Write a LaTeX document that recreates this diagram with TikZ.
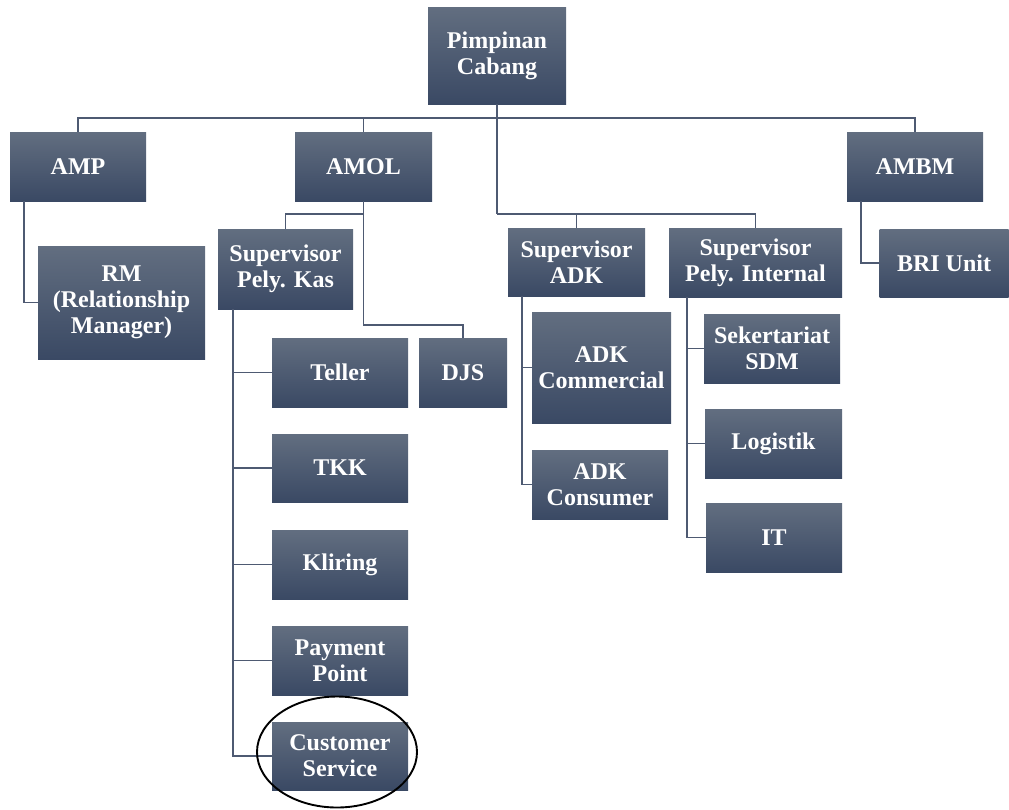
\documentclass[tikz,border=0pt]{standalone}
\usepackage{fontspec}
\setmainfont{Liberation Serif}
\definecolor{boxtop}{RGB}{98,110,128}
\definecolor{boxbot}{RGB}{58,73,100}
\definecolor{linec}{RGB}{78,90,114}
\begin{document}
\begin{tikzpicture}[x=1pt,y=-1pt,
  box/.style={rectangle, top color=boxtop, bottom color=boxbot, draw=none,
    text=white, font=\fontsize{24}{26}\selectfont\bfseries, align=center, inner sep=0pt},
  conn/.style={draw=linec, line width=1.6pt}]
\useasboundingbox (0,0) rectangle (1009,809);
% boxes
\node[box, minimum width=138, minimum height=97] (pc) at (497,55.5) {Pimpinan\\Cabang};
\node[box, minimum width=136, minimum height=69] (amp) at (78,166.5) {AMP};
\node[box, minimum width=137, minimum height=69] (amol) at (363.5,166.5) {AMOL};
\node[box, minimum width=136, minimum height=69] (ambm) at (915,166.5) {AMBM};
\node[box, minimum width=167, minimum height=113] (rm) at (121.5,302.5) {RM\\(Relationship\\Manager)};
\node[box, minimum width=135, minimum height=80] (spk) at (285.5,269) {Supervisor\\Pely. Kas};
\node[box, minimum width=88, minimum height=69] (djs) at (463,372.5) {DJS};
\node[box, minimum width=136, minimum height=69] (teller) at (340,372.5) {Teller};
\node[box, minimum width=136, minimum height=68] (tkk) at (340,468) {TKK};
\node[box, minimum width=136, minimum height=69] (kliring) at (340,564.5) {Kliring};
\node[box, minimum width=136, minimum height=69] (pp) at (340,660.5) {Payment\\Point};
\node[box, minimum width=136, minimum height=68] (cs) at (340,756) {Customer\\Service};
\node[box, minimum width=137, minimum height=68] (sadk) at (576.5,262) {Supervisor\\ADK};
\node[box, minimum width=173, minimum height=69] (spi) at (755.5,262.5) {Supervisor\\Pely. Internal};
\node[box, minimum width=139, minimum height=111] (adkcom) at (601.5,367.5) {ADK\\Commercial};
\node[box, minimum width=136, minimum height=69] (adkcon) at (600,484.5) {ADK\\Consumer};
\node[box, minimum width=136, minimum height=69] (sek) at (772,348.5) {Sekertariat\\SDM};
\node[box, minimum width=137, minimum height=69] (log) at (773.5,443.5) {Logistik};
\node[box, minimum width=136, minimum height=69] (it) at (774,537.5) {IT};
\node[box, minimum width=129, minimum height=68] (bri) at (944,263) {BRI Unit};
% connectors from Pimpinan Cabang
\coordinate (pcb) at ([yshift=-14pt]pc.south);
\coordinate (pcc) at ([yshift=-110pt]pc.south);
\draw[conn] (pc.south) -- (pcc);
\draw[conn] (amp.north) |- (pcb) -| (ambm.north);
\draw[conn] (amol.north) -- (amol.north |- pcb);
\draw[conn] (sadk.north) |- (pcc) -| (spi.north);
% AMP
\draw[conn] ([xshift=14pt]amp.south west) |- (rm.west);
% AMOL
\draw[conn] (amol.south) -- ++(0,13) -| (spk.north);
\draw[conn] (amol.south) |- ([yshift=13pt]djs.north) -- (djs.north);
% Supervisor Pely. Kas
\coordinate (spkx) at ([xshift=15pt]spk.south west);
\draw[conn] (spkx) |- (teller.west);
\draw[conn] (spkx) |- (tkk.west);
\draw[conn] (spkx) |- (kliring.west);
\draw[conn] (spkx) |- (pp.west);
\draw[conn] (spkx) |- (cs.west);
% Supervisor ADK
\coordinate (sadkx) at ([xshift=14pt]sadk.south west);
\draw[conn] (sadkx) |- (adkcom.west);
\draw[conn] (sadkx) |- (adkcon.west);
% Supervisor Pely. Internal
\coordinate (spix) at ([xshift=18pt]spi.south west);
\draw[conn] (spix) |- (sek.west);
\draw[conn] (spix) |- (log.west);
\draw[conn] (spix) |- (it.west);
% AMBM
\draw[conn] ([xshift=14pt]ambm.south west) |- (bri.west);
% highlight ellipse
\draw[black, line width=1.9pt] (337,752) ellipse [x radius=80, y radius=55.5];
\end{tikzpicture}
\end{document}
